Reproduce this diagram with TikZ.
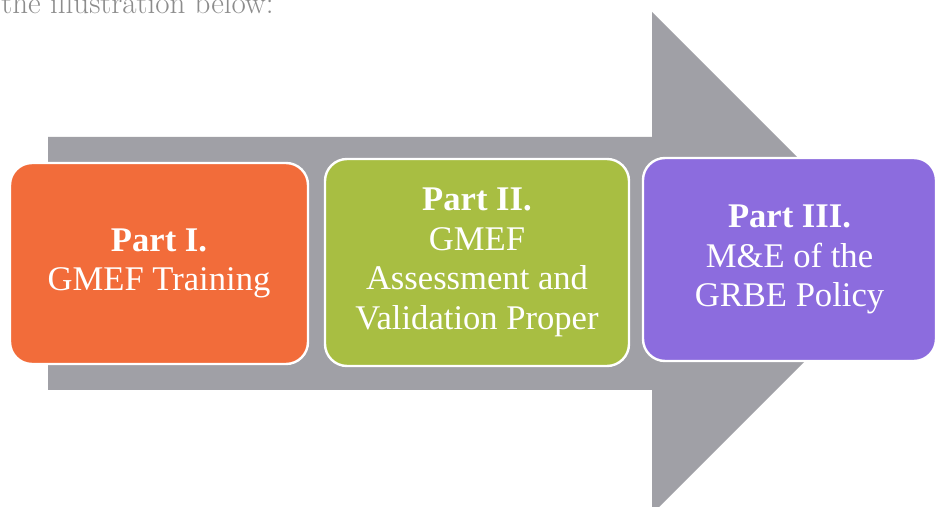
\documentclass[tikz,border=0pt]{standalone}
\usepackage{fontspec}
\newfontfamily\partfont{Liberation Serif}
\definecolor{arrowgray}{RGB}{160,160,166}
\definecolor{partorange}{RGB}{242,108,58}
\definecolor{partgreen}{RGB}{168,190,66}
\definecolor{partpurple}{RGB}{140,108,222}
\definecolor{toptext}{RGB}{140,140,140}
\tikzset{
  partbox/.style={draw=white, line width=1.2pt, rounded corners=11pt, align=center,
    text=white, font=\partfont\fontsize{17.3}{19.8}\selectfont, inner sep=2pt},
}
\begin{document}
\begin{tikzpicture}[x=0.5pt,y=-0.5pt]
\useasboundingbox (0,0) rectangle (937,507);
\fill[white] (0,0) rectangle (937,507);
% caption fragment
\node[anchor=base west, inner sep=0pt, text=toptext, font=\fontsize{15.5}{17}\selectfont] (cap) at (1,14) {the illustration below:};
% big arrow
\fill[arrowgray] (48,137) -- (652,137) -- (652,12) -- (903,263) -- (652,514) -- (652,390) -- (48,390) -- cycle;
% boxes
\node[partbox, fill=partorange, minimum width=149pt, minimum height=100.5pt] (p1) at (159,263.5)
  {\textbf{Part I.}\\GMEF Training};
\node[partbox, fill=partgreen, minimum width=152pt, minimum height=103.5pt] (p2) at (477,262.5)
  {\textbf{Part II.}\\GMEF\\Assessment and\\Validation Proper};
\node[partbox, fill=partpurple, minimum width=146.5pt, minimum height=101.5pt] (p3) at (789.5,259.5)
  {\textbf{Part III.}\\M\&E of the\\GRBE Policy};
\end{tikzpicture}
\end{document}
